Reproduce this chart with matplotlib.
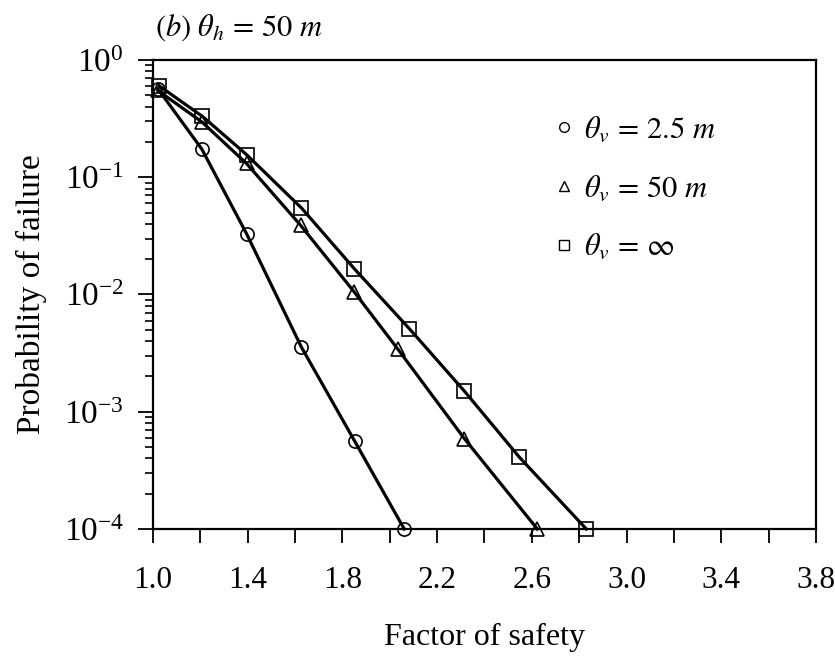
import numpy as np
import matplotlib
matplotlib.use('Agg')
import matplotlib.pyplot as plt
from matplotlib.lines import Line2D
from matplotlib.ticker import FixedLocator, LogLocator, FormatStrFormatter, NullFormatter, FuncFormatter

plt.rcParams['font.family'] = ['Liberation Serif', 'DejaVu Serif']
plt.rcParams['mathtext.fontset'] = 'stix'

# theta_v = 2.5 m
fs_short = [1.02, 1.206, 1.395, 1.627, 1.852, 2.061]
pf_short = [0.57, 0.174, 0.033, 0.00355, 5.6e-4, 1.0e-4]

# theta_v = 50 m
fs_mid = [1.02, 1.206, 1.395, 1.623, 1.85, 2.035, 2.315, 2.623]
pf_mid = [0.55, 0.297, 0.131, 0.039, 0.0105, 0.0034, 5.9e-4, 1.0e-4]

# theta_v = infinity
fs_inf = [1.027, 1.209, 1.395, 1.627, 1.85, 2.083, 2.315, 2.547, 2.83]
pf_inf = [0.6, 0.33, 0.156, 0.0547, 0.0166, 0.0051, 0.0015, 4.1e-4, 1.0e-4]

labels = [r'$\theta_v\,=\,2.5\ m$', r'$\theta_v\,=\,50\ m$', r'$\theta_v\,=\,\infty$']
markers = ['o', '^', 's']
x_ticks = [1.0, 1.4, 1.8, 2.2, 2.6, 3.0, 3.4, 3.8]
x_minor = [1.2, 1.6, 2.0, 2.4, 2.8, 3.2, 3.6]

fig = plt.figure(figsize=(8.35, 6.62), dpi=100)
ax = fig.add_axes([153 / 835, 133 / 662, 663 / 835, 469 / 662])

for fs, pf, m in zip([fs_short, fs_mid, fs_inf], [pf_short, pf_mid, pf_inf], markers):
    ax.plot(fs, pf, color='black', lw=2.3, marker=m, markersize=10 if m != 'o' else 9.5,
            markerfacecolor='none', markeredgecolor='black', markeredgewidth=1.2, clip_on=False)

ax.set_yscale('log')
ax.set_xlim(1.0, 3.8)
ax.set_ylim(1e-4, 1)

ax.xaxis.set_major_locator(FixedLocator(x_ticks))
ax.xaxis.set_minor_locator(FixedLocator(x_minor))
ax.xaxis.set_major_formatter(FormatStrFormatter('%.1f'))
ax.yaxis.set_major_locator(LogLocator(base=10, numticks=10))
ax.yaxis.set_minor_locator(LogLocator(base=10, subs=np.arange(2, 10), numticks=10))
ax.yaxis.set_minor_formatter(NullFormatter())
ax.yaxis.set_major_formatter(FuncFormatter(lambda v, p: r'$\mathregular{10^{%d}}$' % round(np.log10(v))))

ax.tick_params(axis='x', which='both', direction='out', length=10, width=1.3, labelsize=22.5, pad=17)
ax.tick_params(axis='y', which='major', direction='out', length=11, width=1.3, labelsize=24, pad=10)
ax.tick_params(axis='y', which='minor', direction='out', length=6, width=1.2)
for s in ax.spines.values():
    s.set_linewidth(1.6)

ax.set_xlabel('Factor of safety', fontsize=23, labelpad=20)
ax.set_ylabel('Probability of failure', fontsize=24, labelpad=12)

handles = [Line2D([], [], linestyle='none', marker=m, markersize=7, markerfacecolor='none',
                  markeredgecolor='black', markeredgewidth=1.0) for m in markers]
ax.legend(handles, labels, loc='upper left', bbox_to_anchor=(0.56, 0.94), frameon=False,
          fontsize=22, handlelength=0.8, handletextpad=0.25, labelspacing=0.95)

fig.text(155 / 835, 1 - 28 / 662, r'$(b)\ \theta_h\,=\,50\ m$', fontsize=22, va='center', ha='left')

fig.savefig('out.png', dpi=100)
